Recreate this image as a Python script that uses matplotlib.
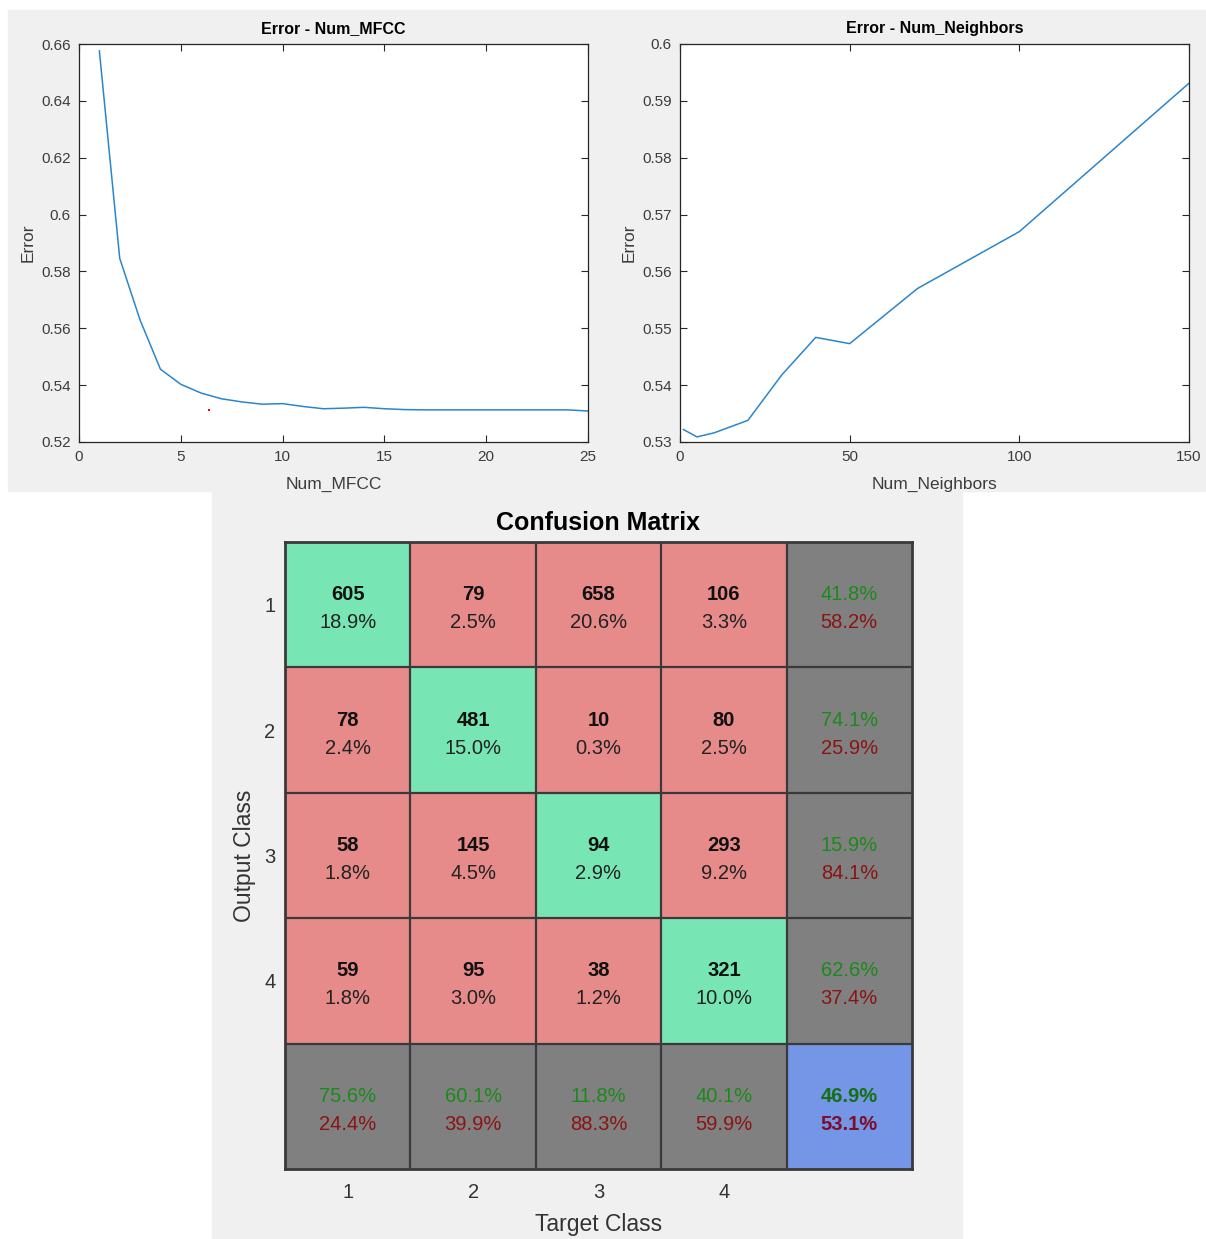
import numpy as np
import matplotlib.pyplot as plt
from matplotlib.patches import Rectangle
from matplotlib.colors import ListedColormap

plt.rcParams['font.family'] = ['Liberation Sans', 'DejaVu Sans']

# Error vs number of MFCC coefficients
mfcc_n = list(range(1, 26))
mfcc_err = [0.6576, 0.5846, 0.5629, 0.5456, 0.5403, 0.5372, 0.5352, 0.5341, 0.5333, 0.5335,
            0.5325, 0.5317, 0.5319, 0.5322, 0.5317, 0.5314, 0.5313, 0.5313, 0.5313, 0.5313,
            0.5313, 0.5313, 0.5313, 0.5313, 0.5309]
stray_point = ([6.4], [0.5311])

# Error vs number of neighbors
nb_n = [1, 5, 10, 20, 30, 40, 50, 70, 100, 150]
nb_err = [0.5322, 0.5309, 0.5316, 0.5338, 0.5418, 0.5484, 0.5473, 0.5570, 0.5670, 0.5931]

mfcc_xticks = [0, 5, 10, 15, 20, 25]
mfcc_yticks = [0.52, 0.54, 0.56, 0.58, 0.60, 0.62, 0.64, 0.66]
mfcc_ylabels = ['0.52', '0.54', '0.56', '0.58', '0.6', '0.62', '0.64', '0.66']
nb_xticks = [0, 50, 100, 150]
nb_yticks = [0.53, 0.54, 0.55, 0.56, 0.57, 0.58, 0.59, 0.60]
nb_ylabels = ['0.53', '0.54', '0.55', '0.56', '0.57', '0.58', '0.59', '0.6']

# Confusion matrix (rows = output class, cols = target class)
classes = ['1', '2', '3', '4']
counts = [[605, 79, 658, 106],
          [78, 481, 10, 80],
          [58, 145, 94, 293],
          [59, 95, 38, 321]]
cell_pct = [['18.9%', '2.5%', '20.6%', '3.3%'],
            ['2.4%', '15.0%', '0.3%', '2.5%'],
            ['1.8%', '4.5%', '2.9%', '9.2%'],
            ['1.8%', '3.0%', '1.2%', '10.0%']]
row_ok = ['41.8%', '74.1%', '15.9%', '62.6%']
row_bad = ['58.2%', '25.9%', '84.1%', '37.4%']
col_ok = ['75.6%', '60.1%', '11.8%', '40.1%']
col_bad = ['24.4%', '39.9%', '88.3%', '59.9%']
total_ok = '46.9%'
total_bad = '53.1%'

W, H = 1206, 1239
fig = plt.figure(figsize=(W / 100, H / 100), dpi=100, facecolor='white')

def box(x0, y0, x1, y1):
    # pixel box (top-left origin) -> figure fraction rect
    return [x0 / W, 1 - y1 / H, (x1 - x0) / W, (y1 - y0) / H]

bg = '#f0f0f0'
fig.patches.append(Rectangle((8 / W, 1 - 491 / H), 1197 / W, 481 / H,
                             transform=fig.transFigure, color=bg, zorder=-10))
fig.patches.append(Rectangle((212 / W, 0), 750 / W, 1 - 491 / H,
                             transform=fig.transFigure, color=bg, zorder=-10))

dark = '#262626'
tick_c = '#3c3c3c'
line_blue = '#2a86cc'

def style_line_axes(ax):
    for s in ax.spines.values():
        s.set_color(dark)
        s.set_linewidth(0.9)
    ax.tick_params(direction='in', top=True, right=True, length=5, width=0.8,
                   colors=dark, labelcolor=tick_c, labelsize=11, pad=6)

ax1 = fig.add_axes(box(79, 44, 588, 442))
ax1.plot(mfcc_n, mfcc_err, color=line_blue, lw=1.1)
ax1.plot(*stray_point, 's', color='red', markersize=1.5, markeredgewidth=0)
ax1.set_xlim(0, 25)
ax1.set_ylim(0.52, 0.66)
ax1.set_xticks(mfcc_xticks)
ax1.set_yticks(mfcc_yticks)
ax1.set_yticklabels(mfcc_ylabels)
style_line_axes(ax1)
ax1.set_title('Error - Num_MFCC', fontsize=11.5, fontweight='bold', pad=8)
ax1.set_xlabel('Num_MFCC', fontsize=12.5, color=tick_c, labelpad=9)
ax1.set_ylabel('Error', fontsize=12.5, color=tick_c, labelpad=4)

ax2 = fig.add_axes(box(680, 44, 1189, 442))
ax2.plot(nb_n, nb_err, color=line_blue, lw=1.1)
ax2.set_xlim(0, 150)
ax2.set_ylim(0.53, 0.60)
ax2.set_xticks(nb_xticks)
ax2.set_yticks(nb_yticks)
ax2.set_yticklabels(nb_ylabels)
style_line_axes(ax2)
ax2.set_title('Error - Num_Neighbors', fontsize=11.5, fontweight='bold', pad=8)
ax2.set_xlabel('Num_Neighbors', fontsize=12.5, color=tick_c, labelpad=9)
ax2.set_ylabel('Error', fontsize=12.5, color=tick_c, labelpad=4)

# confusion matrix
n = len(classes)
codes = np.ones((n + 1, n + 1))
np.fill_diagonal(codes, 0)
codes[n, :] = 2
codes[:, n] = 2
codes[n, n] = 3
cm_colors = ListedColormap(['#78e6b4', '#e68a8a', '#808080', '#7595e6'])

ax3 = fig.add_axes(box(285, 542, 912, 1169))
ax3.imshow(codes, cmap=cm_colors, vmin=0, vmax=3, extent=(0.5, n + 1.5, n + 1.5, 0.5),
           aspect='auto', interpolation='nearest')
grid_c = '#3a3a3a'
for k in np.arange(1.5, n + 1.5):
    ax3.axvline(k, color=grid_c, lw=1.6)
    ax3.axhline(k, color=grid_c, lw=1.6)
for s in ax3.spines.values():
    s.set_color(grid_c)
    s.set_linewidth(2)

green_t = '#1b8a1b'
red_t = '#8a1414'
up, down = 0.08, 0.143
for i in range(n):
    for j in range(n):
        ax3.text(j + 1, i + 1 - up, str(counts[i][j]), ha='center', va='center',
                 fontsize=14.5, fontweight='bold', color='#111111')
        ax3.text(j + 1, i + 1 + down, cell_pct[i][j], ha='center', va='center',
                 fontsize=14.5, color='#222222')
    ax3.text(n + 1, i + 1 - up, row_ok[i], ha='center', va='center', fontsize=14.5, color=green_t)
    ax3.text(n + 1, i + 1 + down, row_bad[i], ha='center', va='center', fontsize=14.5, color=red_t)
    ax3.text(i + 1, n + 1 - up, col_ok[i], ha='center', va='center', fontsize=14.5, color=green_t)
    ax3.text(i + 1, n + 1 + down, col_bad[i], ha='center', va='center', fontsize=14.5, color=red_t)
ax3.text(n + 1, n + 1 - up, total_ok, ha='center', va='center', fontsize=14.5,
         fontweight='bold', color='#137013')
ax3.text(n + 1, n + 1 + down, total_bad, ha='center', va='center', fontsize=14.5,
         fontweight='bold', color='#7a0f2a')

ax3.set_xlim(0.5, n + 1.5)
ax3.set_ylim(n + 1.5, 0.5)
ax3.set_xticks(range(1, n + 1))
ax3.set_xticklabels(classes)
ax3.set_yticks(range(1, n + 1))
ax3.set_yticklabels(classes)
ax3.tick_params(axis='x', length=0, labelsize=14.5, colors='#333333', pad=10)
ax3.tick_params(axis='y', length=0, labelsize=14.5, colors='#333333', pad=7)
ax3.set_title('Confusion Matrix', fontsize=18, fontweight='bold', pad=9)
ax3.set_xlabel('Target Class', fontsize=16.5, color='#333333', labelpad=8)
ax3.set_ylabel('Output Class', fontsize=16.5, color='#333333', labelpad=6)

fig.savefig('out.png', dpi=100, facecolor='white')
